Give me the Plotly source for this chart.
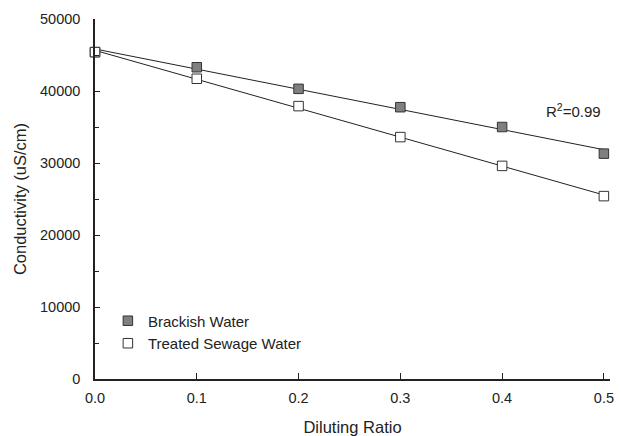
import numpy as np
import plotly.graph_objects as go

ratio = [0.0, 0.1, 0.2, 0.3, 0.4, 0.5]
brackish = [45400, 43300, 40300, 37750, 35000, 31300]
treated = [45400, 41700, 37900, 33600, 29600, 25400]
y_ticks = [0, 10000, 20000, 30000, 40000, 50000]
x_ticks = [0.0, 0.1, 0.2, 0.3, 0.4, 0.5]

FONT = "Liberation Sans, Arial, sans-serif"
fig = go.Figure()

xr = np.array([ratio[0], ratio[-1]])
for ys in (brackish, treated):
    k, b = np.polyfit(ratio, ys, 1)
    fig.add_trace(go.Scatter(x=xr, y=k * xr + b, mode="lines",
                             line=dict(color="#222222", width=1),
                             showlegend=False, hoverinfo="skip"))

fig.add_trace(go.Scatter(x=ratio, y=brackish, mode="markers", name="Brackish Water",
                         marker=dict(symbol="square", size=9.5, color="#7f7f7f",
                                     line=dict(color="#333333", width=1)),
                         cliponaxis=False))
fig.add_trace(go.Scatter(x=ratio, y=treated, mode="markers", name="Treated Sewage Water",
                         marker=dict(symbol="square", size=9.5, color="white",
                                     line=dict(color="#333333", width=1)),
                         cliponaxis=False))

fig.add_annotation(x=0.470, y=37300, xref="x", yref="y", text="R<sup>2</sup>=0.99",
                   showarrow=False, font=dict(family=FONT, size=15, color="#222222"))

fig.update_layout(
    width=621, height=436,
    margin=dict(l=95, r=11, t=19, b=57),
    paper_bgcolor="white", plot_bgcolor="white",
    font=dict(family=FONT, color="#222222"),
    legend=dict(x=0.025, y=0.207, xanchor="left", yanchor="top",
                bgcolor="rgba(0,0,0,0)", font=dict(size=15, family=FONT, color="#222222"),
                tracegroupgap=0, itemsizing="trace"),
)
fig.update_xaxes(range=[0, 0.506], tickvals=x_ticks, ticktext=[f"{v:.1f}" for v in x_ticks],
                 ticks="inside", ticklen=6, tickwidth=1, tickcolor="#222222", automargin=False,
                 showline=True, linecolor="#222222", linewidth=1.5, showgrid=False, zeroline=False,
                 tickfont=dict(size=14.5, family=FONT), ticklabelstandoff=5,
                 title=dict(text="Diluting Ratio", font=dict(size=16.5, family=FONT), standoff=18))
fig.update_yaxes(range=[0, 50000], tickvals=y_ticks, ticktext=[str(v) for v in y_ticks],
                 ticks="inside", ticklen=5, tickwidth=1, tickcolor="#222222", automargin=False,
                 minor=dict(ticks="inside", dtick=5000, ticklen=4, tickcolor="#222222", showgrid=False),
                 showline=True, linecolor="#222222", linewidth=1.5, showgrid=False, zeroline=False,
                 tickfont=dict(size=14.5, family=FONT), ticklabelstandoff=10,
                 title=dict(text="Conductivity (uS/cm)", font=dict(size=16.5, family=FONT), standoff=9))

fig.write_html("out.html", config={"displayModeBar": False},
               post_script="document.body.style.margin='0';")
